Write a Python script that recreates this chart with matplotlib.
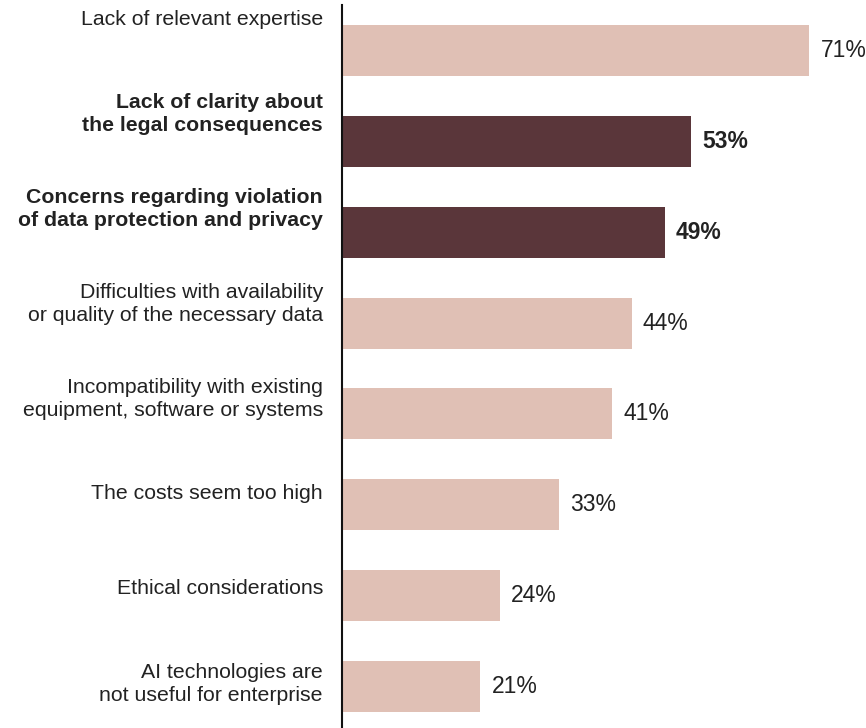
import matplotlib
matplotlib.use("Agg")
import matplotlib.pyplot as plt

categories = [
    "Lack of relevant expertise",
    "Lack of clarity about\nthe legal consequences",
    "Concerns regarding violation\nof data protection and privacy",
    "Difficulties with availability\nor quality of the necessary data",
    "Incompatibility with existing\nequipment, software or systems",
    "The costs seem too high",
    "Ethical considerations",
    "AI technologies are\nnot useful for enterprise",
]
values = [71, 53, 49, 44, 41, 33, 24, 21]
highlight = [False, True, True, False, False, False, False, False]

LIGHT = "#E0C0B5"
DARK = "#5A363A"
TEXT = "#222222"

plt.rcParams["font.family"] = ["Liberation Sans", "DejaVu Sans"]

fig = plt.figure(figsize=(8.66, 7.28), dpi=100)
W, H = 866, 728
ax = fig.add_axes([342 / W, 0, (866 - 342) / W, (728 - 5) / H])

pos = list(range(len(values)))
colors = [DARK if h else LIGHT for h in highlight]
ax.barh(pos, values, height=0.56, color=colors, edgecolor="none")

ax.set_xlim(0, 79.6)
ax.set_ylim(7.457, -0.501)

for i, (v, h) in enumerate(zip(values, highlight)):
    ax.text(v + 1.7, i, f"{v}%", va="center", ha="left", fontsize=16.5,
            color=TEXT, fontweight="bold" if h else "normal")
    ly = -0.3467 + 1.0456 * i
    ax.text(-2.89, ly, categories[i], va="center", ha="right", fontsize=15.3,
            color=TEXT, fontweight="bold" if h else "normal",
            linespacing=1.25, clip_on=False)

for s in ["top", "right", "bottom"]:
    ax.spines[s].set_visible(False)
ax.spines["left"].set_linewidth(1.5)
ax.spines["left"].set_color("#111111")
ax.set_xticks([])
ax.set_yticks([])

fig.savefig("out.png", dpi=100)
